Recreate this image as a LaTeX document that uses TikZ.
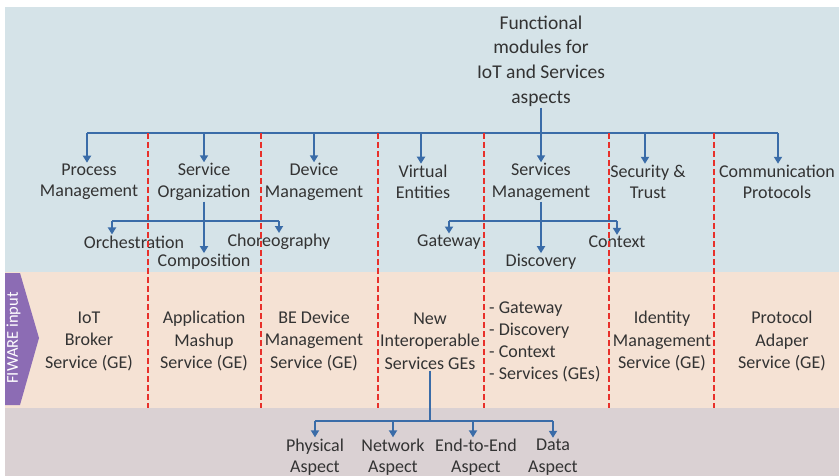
\documentclass[tikz,border=0pt]{standalone}
\usepackage{fontspec}
\setmainfont{Carlito}
\usetikzlibrary{arrows.meta}
\definecolor{bgblue}{HTML}{D5E3E8}
\definecolor{bgpeach}{HTML}{F5E2D4}
\definecolor{bggray}{HTML}{DAD1D3}
\definecolor{fiware}{HTML}{8C6CB4}
\definecolor{linkblue}{HTML}{3A6CA8}
\definecolor{divred}{HTML}{E8302A}
\definecolor{txt}{HTML}{333333}
\begin{document}
\begin{tikzpicture}[x=1pt,y=-1pt,
 lbl/.style={align=center,inner sep=1pt,text=txt,font=\fontsize{18}{21.5}\selectfont},
 plbl/.style={lbl,font=\fontsize{18}{22.5}\selectfont},
 ttl/.style={lbl,font=\fontsize{19.5}{24.7}\selectfont},
 link/.style={draw=linkblue,line width=2pt},
 arr/.style={link,-{Triangle[width=8pt,length=7pt]}},
 divider/.style={draw=divred,line width=2.4pt,dash pattern=on 6pt off 3pt}]
\useasboundingbox (0,0) rectangle (839,476);
% backgrounds
\fill[white] (0,0) rectangle (839,476);
\fill[bgblue] (5,7) rectangle (839,272);
\fill[bgpeach] (5,272) rectangle (839,408);
\fill[bggray] (5,408) rectangle (839,476);
% FIWARE input arrow
\fill[fiware] (5,273) -- (20,273) -- (39,338) -- (20,405) -- (5,405) -- cycle;
\node[rotate=90,text=white,inner sep=0pt,font=\fontsize{16.5}{16.5}\selectfont] (fw) at (13.5,338) {FIWARE input};
% title
\node[ttl] (title) at (541,61) {Functional\\modules for\\IoT and Services\\aspects};
% row 1
\node[lbl] (pm) at (89,182) {Process\\Management};
\node[lbl] (so) at (204,182) {Service\\Organization};
\node[lbl] (dm) at (314,182) {Device\\Management};
\node[lbl] (ve) at (423,182) {Virtual\\Entities};
\node[lbl] (sm) at (541,182) {Services\\Management};
\node[lbl] (st) at (648,182) {Security \&\\Trust};
\node[lbl] (cp) at (777,182) {Communication\\Protocols};
% bus coordinates
\coordinate (b1) at (87,133);
\coordinate (b2) at (204,133);
\coordinate (b3) at (314,133);
\coordinate (b4) at (421,133);
\coordinate (b5) at (541,133);
\coordinate (b6) at (645,133);
\coordinate (b7) at (778,133);
\draw[link] (title) -- (b5);
\draw[link] (b1) -- (b7);
\foreach \b/\n in {b1/pm,b2/so,b3/dm,b4/ve,b5/sm,b6/st,b7/cp}
  \draw[arr] (\b) -- (\b |- \n.north);
% sub-labels
\node[lbl] (orch) at (134,242) {Orchestration};
\node[lbl] (chor) at (279,242) {Choreography};
\node[lbl] (comp) at (204,262) {Composition};
\node[lbl] (gw) at (449,242) {Gateway};
\node[lbl] (ctx) at (617,242) {Context};
\node[lbl] (disc) at (541,262) {Discovery};
\coordinate (s1) at (112,221);
\coordinate (s3) at (279,221);
\coordinate (g1) at (449,221);
\coordinate (g3) at (617,221);
\draw[link] (s1) -- (s3);
\draw[arr] (so) -- (comp);
\draw[arr] (s1) -- (s1 |- orch.north);
\draw[arr] (s3) -- (s3 |- chor.north);
\draw[link] (g1) -- (g3);
\draw[arr] (sm) -- (disc);
\draw[arr] (g1) -- (g1 |- gw.north);
\draw[arr] (g3) -- (g3 |- ctx.north);
% peach row
\node[plbl] (iot) at (89,341) {IoT\\Broker\\Service (GE)};
\node[plbl] (am) at (204,341) {Application\\Mashup\\Service (GE)};
\node[plbl] (be) at (314,341) {BE Device\\Management\\Service (GE)};
\node[plbl] (ni) at (430,341) {New\\Interoperable\\Services GEs};
\node[lbl,align=left,anchor=west,font=\fontsize{18}{22}\selectfont] (gl) at (488,342) {- Gateway\\- Discovery\\- Context\\- Services (GEs)};
\node[plbl] (idm) at (662,341) {Identity\\Management\\Service (GE)};
\node[plbl] (pa) at (782,341) {Protocol\\Adaper\\Service (GE)};
% bottom
\node[lbl] (phy) at (315,457) {Physical\\Aspect};
\node[lbl] (net) at (393,457) {Network\\Aspect};
\node[lbl] (e2e) at (476,457) {End-to-End\\Aspect};
\node[lbl] (data) at (553,457) {Data\\Aspect};
\coordinate (a0) at (430,421);
\coordinate (a1) at (315,421);
\coordinate (a2) at (393,421);
\coordinate (a3) at (473,421);
\coordinate (a4) at (553,421);
\draw[link] (ni) -- (a0);
\draw[link] (a1) -- (a4);
\draw[arr] (a1) -- (a1 |- phy.north);
\draw[arr] (a2) -- (a2 |- net.north);
\draw[arr] (a3) -- (a3 |- e2e.north);
\draw[arr] (a4) -- (a4 |- data.north);
% dividers
\foreach \x in {148,261,378,484,609,714}
  \draw[divider] (\x,133) -- (\x,408);
\end{tikzpicture}
\end{document}
